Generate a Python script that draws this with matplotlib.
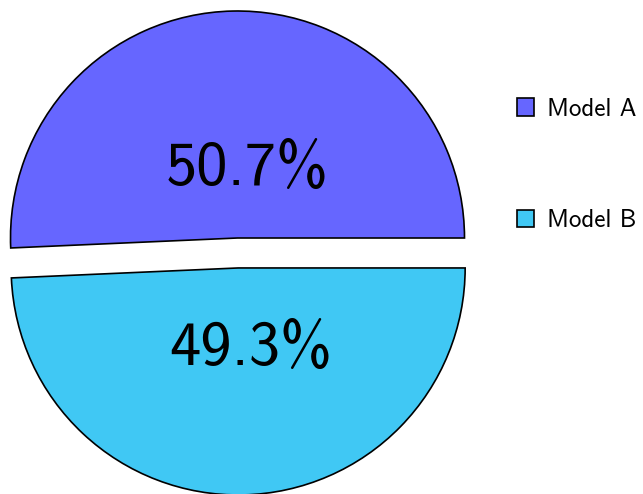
import matplotlib
matplotlib.use("Agg")
import matplotlib.pyplot as plt
from matplotlib.transforms import ScaledTranslation

plt.rcParams['font.family'] = ['cmss10', 'DejaVu Sans']
plt.rcParams['axes.unicode_minus'] = False

# data
labels = ["Model A", "Model B"]
shares = [50.7, 49.3]
colors = ["#6666ff", "#40c8f4"]
explode = [0.0, 0.132]

fig = plt.figure(figsize=(6.43, 4.94), dpi=100)
ax = fig.add_axes([0, 0, 1, 1])

wedges, texts, autotexts = ax.pie(
    shares,
    colors=colors,
    explode=explode,
    startangle=0,
    counterclock=True,
    autopct="%.1f%%",
    pctdistance=0.33,
    wedgeprops=dict(edgecolor="black", linewidth=1.2),
    textprops=dict(fontsize=45, color="black"),
)

# nudge the percentage labels a little right / down like the original
nudge = ScaledTranslation(0.11, -0.06, fig.dpi_scale_trans)
for t in autotexts:
    t.set_transform(ax.transData + nudge)

# keep the pie where it sits in the reference (227 px radius)
ax.set_xlim(-237.5 / 227, (643 - 237.5) / 227)
ax.set_ylim(-(494 - 238) / 227, 238 / 227)
ax.set_aspect("auto")
ax.axis("off")

fig.legend(wedges, labels, loc="center left",
           bbox_to_anchor=(0.769, 0.666), frameon=False,
           fontsize=18, labelspacing=3.55,
           handlelength=0.7, handleheight=0.7, handletextpad=0.5)

fig.savefig("out.png", dpi=100)
